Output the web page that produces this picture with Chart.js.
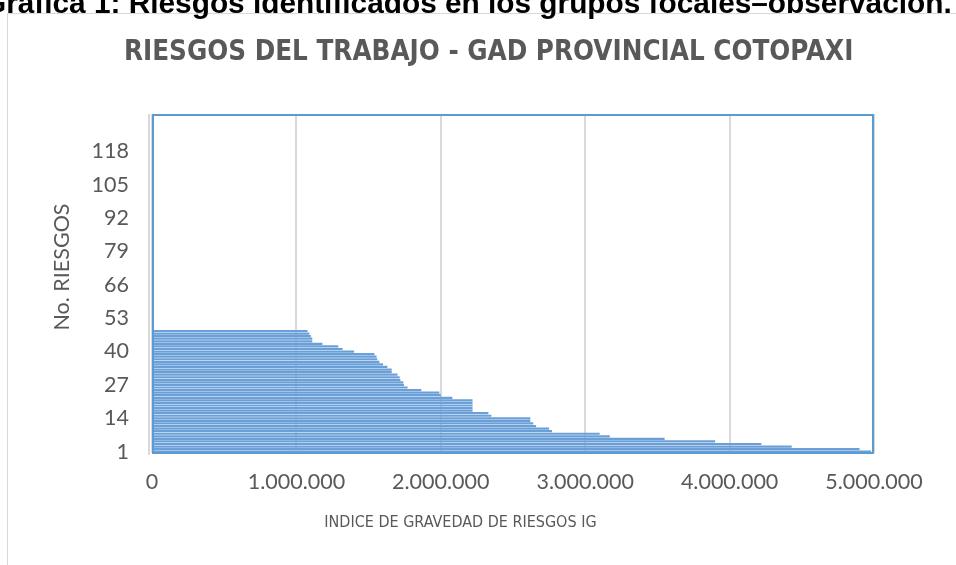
<!DOCTYPE html>
<html><head><meta charset="utf-8">
<script src="https://cdn.jsdelivr.net/npm/chart.js@4.4.1/dist/chart.umd.min.js"></script>
<style>
html,body{margin:0;padding:0;background:#fff;width:956px;height:565px;overflow:hidden;}
#frame{position:absolute;left:7px;top:13px;width:960px;height:560px;border-left:1px solid #d9d9d9;border-top:1px solid #d9d9d9;}
#cap{position:absolute;left:-17px;top:-14px;font:bold 29.8px "Liberation Sans",Arial,sans-serif;color:#000;white-space:nowrap;}
#c{position:absolute;left:0;top:0;}
</style></head><body>
<div id="frame"></div>
<canvas id="c" width="956" height="565"></canvas>
<div id="cap">Gráfica 1: Riesgos identificados en los grupos focales–observación.</div>
<script>
// Risk numbers (category axis)
const categories = [1,2,3,4,5,6,7,8,9,10,11,12,13,14,15,16,17,18,19,20,21,22,23,24,25,26,27,28,29,30,
31,32,33,34,35,36,37,38,39,40,41,42,43,44,45,46,47,48,49,50,51,52,53,54,55,56,57,58,59,60,
61,62,63,64,65,66,67,68,69,70,71,72,73,74,75,76,77,78,79,80,81,82,83,84,85,86,87,88,89,90,
91,92,93,94,95,96,97,98,99,100,101,102,103,104,105,106,107,108,109,110,111,112,113,114,115,116,117,118,119,120,
121,122,123,124,125,126,127,128,129,130,131,132];
// Indice de gravedad (IG) per risk
const igValues = [4980000,4900000,4430000,4220000,3900000,3550000,3170000,3100000,2770000,2750000,
2660000,2640000,2620000,2620000,2350000,2330000,2220000,2220000,2220000,2220000,
2220000,2080000,2000000,1990000,1865000,1770000,1745000,1740000,1720000,1715000,
1700000,1660000,1660000,1630000,1600000,1575000,1560000,1555000,1540000,1400000,
1320000,1290000,1180000,1110000,1110000,1100000,1090000,1077000];
const yTickLabels = ['1','14','27','40','53','66','79','92','105','118'];
const xTickLabels = ['0','1.000.000','2.000.000','3.000.000','4.000.000','5.000.000'];
const chartTitle = 'RIESGOS DEL TRABAJO - GAD PROVINCIAL COTOPAXI';
const xTitle = 'INDICE DE GRAVEDAD DE RIESGOS IG';
const yTitle = 'No. RIESGOS';

const TXT = '#595959';
const frameBorder = {
  id:'frameBorder',
  beforeDatasetsDraw(chart){
    const {ctx, chartArea:a} = chart;
    ctx.save();
    ctx.strokeStyle = '#d9d9d9'; ctx.lineWidth = 2;
    ctx.beginPath(); ctx.moveTo(a.left-3, a.top); ctx.lineTo(a.left-3, a.bottom+2); ctx.stroke();
    ctx.restore();
  },
  afterDatasetsDraw(chart){
    const {ctx, chartArea:a} = chart;
    ctx.save();
    ctx.strokeStyle = '#5b9bd5'; ctx.lineWidth = 2;
    ctx.strokeRect(a.left+1, a.top+1, a.right-a.left-2, a.bottom-a.top-1);
    ctx.restore();
  }
};

new Chart(document.getElementById('c'), {
  type:'bar',
  data:{
    labels: categories.map(String),
    datasets:[{
      label:'IG',
      data: igValues,
      backgroundColor:'#6a9fd7',
      borderWidth:0,
      barPercentage:1.0,
      categoryPercentage:0.85
    }]
  },
  options:{
    indexAxis:'y',
    responsive:false,
    animation:false,
    layout:{padding:{left:0,right:82,top:0,bottom:0}},
    plugins:{
      legend:{display:false},
      tooltip:{enabled:false},
      title:{
        display:true,
        text: '            ' + chartTitle,
        fullSize:true,
        color:TXT,
        font:{family:'"Liberation Sans Narrow","DejaVu Sans Condensed",Lato,sans-serif',size:27.5,weight:'bold',lineHeight:1.2},
        padding:{top:36.5,bottom:44.5}
      }
    },
    scales:{
      x:{
        type:'linear',
        min:0,max:5000000,
        afterFit(s){ s.height = 112; },
        ticks:{
          stepSize:1000000,
          color:TXT,
          padding:16,
          font:{family:'Lato',size:21.5},
          callback(v, i){ return xTickLabels[i]; }
        },
        grid:{color:'#d9d9d9',lineWidth:2,drawTicks:false},
        border:{display:false},
        title:{
          display:true,
          text: xTitle + '                       ',
          color:TXT,
          font:{family:'"Liberation Sans Narrow","DejaVu Sans Condensed",Lato,sans-serif',size:16,lineHeight:1.2},
          padding:{top:0,bottom:33}
        }
      },
      y:{
        type:'category',
        reverse:true,
        afterFit(s){ s.width = 152; },
        ticks:{
          autoSkip:false,
          color:TXT,
          padding:23,
          font:{family:'Lato',size:21.5},
          callback(v){ const l = this.getLabelForValue(v); return yTickLabels.includes(l) ? l : ''; }
        },
        grid:{display:false,drawTicks:false},
        border:{display:false},
        title:{
          display:true,
          text: '      ' + yTitle,
          color:TXT,
          font:{family:'Lato',size:21.5,lineHeight:1.2},
          padding:{top:49,bottom:0}
        }
      }
    }
  },
  plugins:[frameBorder]
});
</script>
</body></html>
